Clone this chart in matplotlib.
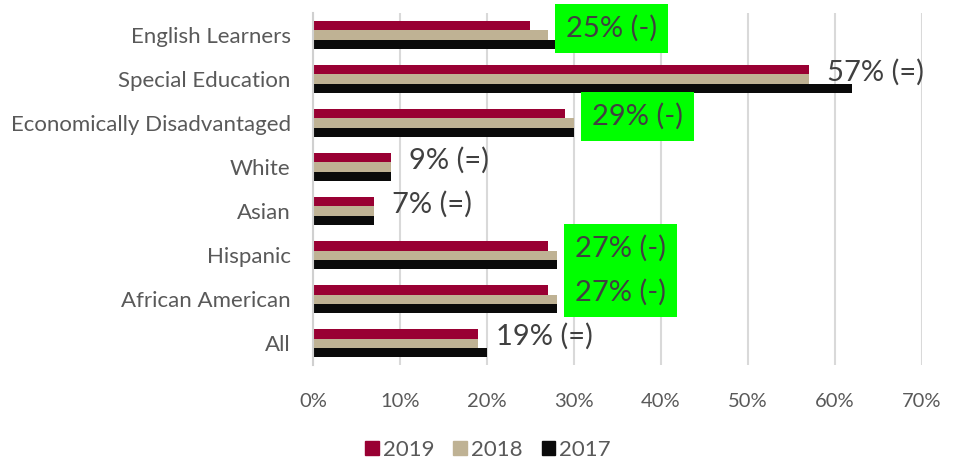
import numpy as np
import matplotlib.pyplot as plt
from matplotlib.patches import Patch

plt.rcParams['font.family'] = ['Lato', 'DejaVu Sans']

groups = ['English Learners', 'Special Education', 'Economically Disadvantaged',
          'White', 'Asian', 'Hispanic', 'African American', 'All']
years = ['2019', '2018', '2017']
v2019 = [25, 57, 29, 9, 7, 27, 27, 19]
v2018 = [27, 57, 30, 9, 7, 28, 28, 19]
v2017 = [28, 62, 30, 9, 7, 28, 28, 20]
change = ['(-)', '(=)', '(-)', '(=)', '(=)', '(-)', '(-)', '(=)']

colors = ['#990033', '#bfb294', '#0a0a0a']
grey = '#595959'

fig = plt.figure(figsize=(9.61, 4.69), dpi=100)
ax = fig.add_axes([0.3257, 0.2217, 0.6337, 0.7506])

y = np.arange(len(groups))
h = 0.205
for vals, off, c in zip([v2019, v2018, v2017], [-h, 0, h], colors):
    ax.barh(y + off, vals, height=h, color=c, zorder=2)

# labels show the 2019 rate and the change, next to the 2018 bar
for i, (v, mid, ch) in enumerate(zip(v2019, v2018, change)):
    box = None
    if ch == '(-)':
        box = dict(boxstyle='square,pad=0.38', fc='#00ff00', ec='none')
    ax.annotate(f'{v}% {ch}', xy=(mid, i), xytext=(13, 4.5),
                textcoords='offset points', ha='left', va='center',
                fontsize=21, color='#404040', bbox=box, zorder=3)

ax.set_xlim(0, 70)
ax.set_ylim(len(groups) - 0.5, -0.5)
ax.set_xticks(np.arange(0, 71, 10))
ax.set_xticklabels([f'{t}%' for t in range(0, 71, 10)])
ax.set_yticks(y)
ax.set_yticklabels(groups)
ax.tick_params(axis='x', length=0, pad=20, labelsize=14.5, labelcolor=grey)
ax.tick_params(axis='y', length=0, pad=16, labelsize=16, labelcolor=grey)
ax.grid(axis='x', color='#d9d9d9', linewidth=1.5, zorder=0)
for s in ['top', 'right', 'bottom']:
    ax.spines[s].set_visible(False)
ax.spines['left'].set_color('#d0d0d0')
ax.spines['left'].set_linewidth(1.5)

handles = [Patch(color=c) for c in colors]
fig.legend(handles, years, loc='center', bbox_to_anchor=(0.508, 0.04),
           ncol=3, frameon=False, fontsize=16, labelcolor=grey,
           handlelength=0.6, handleheight=0.6, handletextpad=0.2,
           columnspacing=0.85)

plt.savefig('out.png', dpi=100)
